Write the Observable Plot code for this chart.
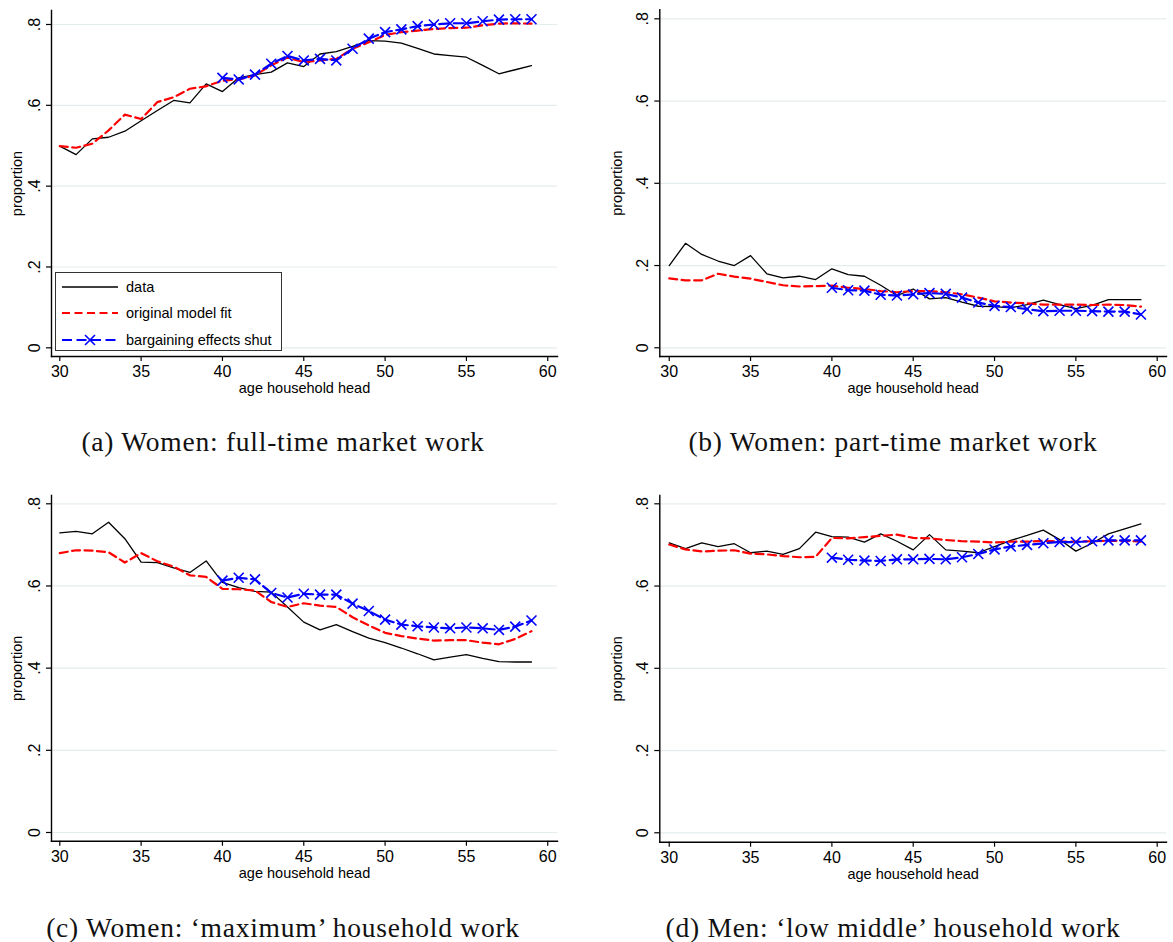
<!DOCTYPE html>
<html><head><meta charset="utf-8">
<script src="https://cdn.jsdelivr.net/npm/d3@7"></script>
<script src="https://cdn.jsdelivr.net/npm/@observablehq/plot@0.6"></script>
<style>
body{margin:0;background:#fff;}
#root{position:relative;width:1173px;height:942px;overflow:hidden;background:#fff}
.panel{position:absolute}
.cap{position:absolute;font-family:"Liberation Serif","Times New Roman",serif;font-size:27.5px;letter-spacing:0.75px;text-align:center;white-space:nowrap;width:600px;line-height:30px;color:#111}
.legend{position:absolute;background:#fff;border:1.5px solid #333;box-sizing:border-box;font-family:"Liberation Sans",Arial,sans-serif;font-size:14.5px;color:#000}
.legend .row{position:absolute;left:0;height:26px;display:flex;align-items:center}
.legend svg{margin-left:6px;margin-right:8px}
</style></head><body>
<div id="root"></div>
<script>
// ---- categories / ticks ----
const ages = [30,31,32,33,34,35,36,37,38,39,40,41,42,43,44,45,46,47,48,49,50,51,52,53,54,55,56,57,58,59];
const shutAges = [40,41,42,43,44,45,46,47,48,49,50,51,52,53,54,55,56,57,58,59];
const xTicks = [30,35,40,45,50,55,60];
const yTicks = [0,0.2,0.4,0.6,0.8];
const yTickLabels = ["0",".2",".4",".6",".8"];
const seriesNames = ["data","original model fit","bargaining effects shut"];
const captions = ["(a) Women: full-time market work","(b) Women: part-time market work","(c) Women: \u2018maximum\u2019 household work","(d) Men: \u2018low middle\u2019 household work"];
const xTitle = "age household head";
const yTitle = "proportion";

// ---- (a) women full-time market work ----
const ftData  = [0.499,0.478,0.517,0.521,0.536,0.562,0.587,0.612,0.606,0.653,0.634,0.668,0.676,0.682,0.705,0.696,0.727,0.733,0.746,0.760,0.759,0.754,0.741,0.727,0.723,0.719,0.699,0.678,0.688,0.698];
const ftModel = [0.499,0.495,0.505,0.538,0.577,0.566,0.608,0.620,0.641,0.647,0.661,0.664,0.674,0.699,0.718,0.707,0.711,0.715,0.740,0.756,0.774,0.781,0.785,0.789,0.791,0.792,0.798,0.802,0.803,0.802];
const ftShut  = [0.668,0.664,0.676,0.703,0.722,0.711,0.715,0.711,0.740,0.765,0.781,0.788,0.796,0.800,0.803,0.803,0.808,0.812,0.813,0.813];
// ---- (b) women part-time market work ----
const ptData  = [0.200,0.254,0.227,0.211,0.200,0.224,0.180,0.170,0.174,0.166,0.192,0.178,0.174,0.152,0.127,0.143,0.119,0.122,0.111,0.101,0.100,0.097,0.105,0.116,0.105,0.095,0.103,0.117,0.117,0.117];
const ptModel = [0.169,0.164,0.164,0.180,0.173,0.168,0.160,0.152,0.149,0.150,0.151,0.146,0.143,0.138,0.135,0.138,0.138,0.135,0.130,0.122,0.113,0.110,0.108,0.105,0.105,0.105,0.104,0.105,0.104,0.100];
const ptShut  = [0.146,0.140,0.139,0.129,0.127,0.130,0.133,0.131,0.122,0.110,0.102,0.099,0.094,0.089,0.090,0.090,0.089,0.088,0.088,0.081];
// ---- (c) women 'maximum' household work ----
const hwData  = [0.729,0.733,0.727,0.755,0.715,0.658,0.657,0.644,0.633,0.661,0.609,0.596,0.587,0.585,0.549,0.512,0.493,0.506,0.489,0.473,0.462,0.449,0.435,0.420,0.427,0.433,0.424,0.416,0.415,0.415];
const hwModel = [0.680,0.687,0.686,0.682,0.657,0.680,0.660,0.647,0.626,0.622,0.593,0.592,0.589,0.561,0.549,0.558,0.552,0.549,0.524,0.504,0.486,0.478,0.472,0.467,0.468,0.468,0.462,0.458,0.471,0.490];
const hwShut  = [0.613,0.620,0.616,0.583,0.572,0.581,0.579,0.579,0.557,0.539,0.518,0.506,0.502,0.499,0.497,0.499,0.497,0.493,0.501,0.516];
// ---- (d) men 'low middle' household work ----
const mhData  = [0.705,0.691,0.705,0.696,0.703,0.681,0.685,0.677,0.691,0.731,0.720,0.719,0.707,0.727,0.709,0.688,0.725,0.688,0.685,0.681,0.696,0.711,0.723,0.736,0.713,0.685,0.704,0.727,0.739,0.751];
const mhModel = [0.701,0.689,0.684,0.686,0.687,0.679,0.677,0.673,0.670,0.671,0.717,0.716,0.719,0.722,0.725,0.717,0.716,0.712,0.709,0.708,0.706,0.708,0.708,0.710,0.708,0.708,0.709,0.710,0.710,0.708];
const mhShut  = [0.669,0.664,0.662,0.661,0.665,0.665,0.666,0.665,0.670,0.678,0.689,0.696,0.700,0.704,0.707,0.707,0.709,0.711,0.711,0.711];

const panels = [
  {data: ftData, model: ftModel, shut: ftShut, left: 0,   top: 0,   width: 557, mL: 51,   mR: 0, mT: 10,  frameBottom: 356,   xd: [29.49, 60.6],  yd: [-0.0215, 0.8346], cap: captions[0], capTop: 427, legend: true},
  {data: ptData, model: ptModel, shut: ptShut, left: 600, top: 0,   width: 573, mL: 59.3, mR: 7, mT: 9.3, frameBottom: 356,   xd: [29.42, 60.572], yd: [-0.0212, 0.8219], cap: captions[1], capTop: 427},
  {data: hwData, model: hwModel, shut: hwShut, left: 0,   top: 480, width: 557, mL: 51,   mR: 0, mT: 15,  frameBottom: 360.7, xd: [29.49, 60.6],  yd: [-0.0212, 0.8202], cap: captions[2], capTop: 913},
  {data: mhData, model: mhModel, shut: mhShut, left: 600, top: 480, width: 573, mL: 59.3, mR: 7, mT: 15,  frameBottom: 361.7, xd: [29.42, 60.572], yd: [-0.0229, 0.8202], cap: captions[3], capTop: 913}
];

const root = document.getElementById("root");
const H = 400;

panels.forEach(p => {
  const rowsD = ages.map((a,i) => ({age: a, v: p.data[i]}));
  const rowsM = ages.map((a,i) => ({age: a, v: p.model[i]}));
  const rowsS = shutAges.map((a,i) => ({age: a, v: p.shut[i]}));
  const chart = Plot.plot({
    width: p.width, height: H,
    marginLeft: p.mL, marginRight: p.mR, marginTop: p.mT, marginBottom: H - p.frameBottom,
    style: {fontFamily: "'Liberation Sans', Arial, sans-serif", fontSize: "16px", background: "#fff", color: "#000", overflow: "visible"},
    x: {domain: p.xd},
    y: {domain: p.yd},
    marks: [
      Plot.gridY(yTicks, {stroke: "#e4ecee", strokeOpacity: 1, strokeWidth: 1.2}),
      Plot.lineY(rowsD, {x: "age", y: "v", stroke: "#000", strokeWidth: 1.3}),
      Plot.lineY(rowsM, {x: "age", y: "v", stroke: "#ff0000", strokeWidth: 2.2, strokeDasharray: "8,4.5"}),
      Plot.lineY(rowsS, {x: "age", y: "v", stroke: "#0000ff", strokeWidth: 2.2, strokeDasharray: "10,4.5"}),
      Plot.dot(rowsS, {x: "age", y: "v", symbol: "times", r: 4.6, stroke: "#0000ff", strokeWidth: 1.6}),
      Plot.axisX({ticks: xTicks, tickSize: 5, tickPadding: 4.5, tickFormat: d => String(d), label: null, strokeWidth: 1.2}),
      Plot.axisY({ticks: yTicks, tickSize: 5, tickPadding: 7, tickRotate: -90, tickFormat: (d,i) => yTickLabels[yTicks.indexOf(d)], label: null, strokeWidth: 1.2}),
      Plot.frame({anchor: "left", stroke: "#000", strokeWidth: 1.4}),
      Plot.frame({anchor: "bottom", stroke: "#000", strokeWidth: 1.4}),
      Plot.text([xTitle], {frameAnchor: "bottom", dy: 32, lineAnchor: "middle", fontSize: 14.5, fill: "#000"}),
      Plot.text([yTitle], {frameAnchor: "left", dx: -(p.mL - 17), rotate: -90, textAnchor: "middle", lineAnchor: "middle", fontSize: 14.5, fill: "#000"})
    ]
  });
  const wrap = document.createElement("div");
  wrap.className = "panel";
  wrap.style.left = p.left + "px";
  wrap.style.top = p.top + "px";
  wrap.appendChild(chart);
  root.appendChild(wrap);

  const cap = document.createElement("div");
  cap.className = "cap";
  cap.textContent = p.cap;
  cap.style.left = (p.left + (p.left === 0 ? 283 : 293) - 300) + "px";
  cap.style.top = p.capTop + "px";
  root.appendChild(cap);

  if (p.legend) {
    const lg = document.createElement("div");
    lg.className = "legend";
    lg.style.left = "55px"; lg.style.top = "272px"; lg.style.width = "227px"; lg.style.height = "79px";
    const samples = [
      `<svg width="56" height="12"><line x1="0" x2="56" y1="6" y2="6" stroke="#000" stroke-width="1.3"/></svg>`,
      `<svg width="56" height="12"><line x1="0" x2="56" y1="6" y2="6" stroke="#ff0000" stroke-width="2.2" stroke-dasharray="8,4.5"/></svg>`,
      `<svg width="56" height="12"><line x1="0" x2="56" y1="6" y2="6" stroke="#0000ff" stroke-width="2.2" stroke-dasharray="10,4.5"/><path d="M23,1L33,11M33,1L23,11" stroke="#0000ff" stroke-width="1.6"/></svg>`
    ];
    seriesNames.forEach((n,i) => {
      const r = document.createElement("div");
      r.className = "row";
      r.style.top = (1 + i*26.3) + "px";
      r.innerHTML = samples[i] + `<span>${n}</span>`;
      lg.appendChild(r);
    });
    root.appendChild(lg);
  }
});
</script>
</body></html>
